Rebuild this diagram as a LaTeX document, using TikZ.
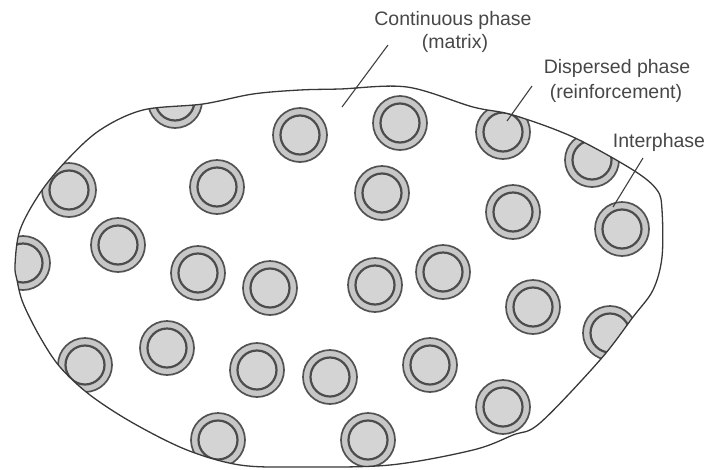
\documentclass[tikz,border=0pt]{standalone}
\usepackage{fontspec}
\setmainfont{Liberation Sans}
\begin{document}
\begin{tikzpicture}[x=1pt,y=-1pt,
  lbl/.style={inner sep=0pt, text=black!72, font=\fontsize{19.5}{21}\selectfont},
  leader/.style={draw=black!75, line width=1.1pt},
  outline/.style={draw=black!78, line width=1.3pt},
  ringout/.style={draw=black!68, line width=1.7pt, fill=black!22},
  ringin/.style={draw=black!70, line width=2.2pt, fill=black!17}]
\useasboundingbox (0,0) rectangle (709,469);
\def\bnd{plot[smooth cycle, tension=0.55] coordinates {
 (15,265) (20,230) (40,193) (67,160) (100,130) (143,110) (203,104) (253,94) (300,90)
 (340,89) (407,87) (473,107) (513,115) (573,137) (633,170) (657,190) (662,210)
 (662,257) (653,290) (633,317) (600,360) (540,423) (513,435) (473,450) (390,465)
 (300,467) (240,465) (187,450) (133,423) (90,395) (60,367) (40,337) (23,303) (17,280)}}
\begin{scope}
\clip \bnd;
\foreach \px/\py in {175/101,300/135,400/123,503/132,592/160,
  69/190,217/187,382/193,513/212,622/229,
  23/263,118/245,198/273,270/288,375/285,443/272,533/307,610/333,
  85/365,167/348,257/370,330/377,430/365,503/407,
  218/440,368/440}{
  \draw[ringout] (\px,\py) circle (27);
  \draw[ringin] (\px,\py) circle (19.5);
}
\end{scope}
\draw[outline] \bnd;
\node[lbl] (cont) at (453,20) {Continuous phase};
\node[lbl] (matrix) at (455,43) {(matrix)};
\node[lbl] (disp) at (617,68) {Dispersed phase};
\node[lbl] (reinf) at (616,93) {(reinforcement)};
\node[lbl] (inter) at (659,142) {Interphase};
\coordinate (m1) at (388,45);
\coordinate (m2) at (342,107);
\coordinate (d1) at (532,86);
\coordinate (d2) at (507,121);
\coordinate (i1) at (643,158);
\coordinate (i2) at (613,207);
\draw[leader] (m1) -- (m2);
\draw[leader] (d1) -- (d2);
\draw[leader] (i1) -- (i2);
\end{tikzpicture}
\end{document}
